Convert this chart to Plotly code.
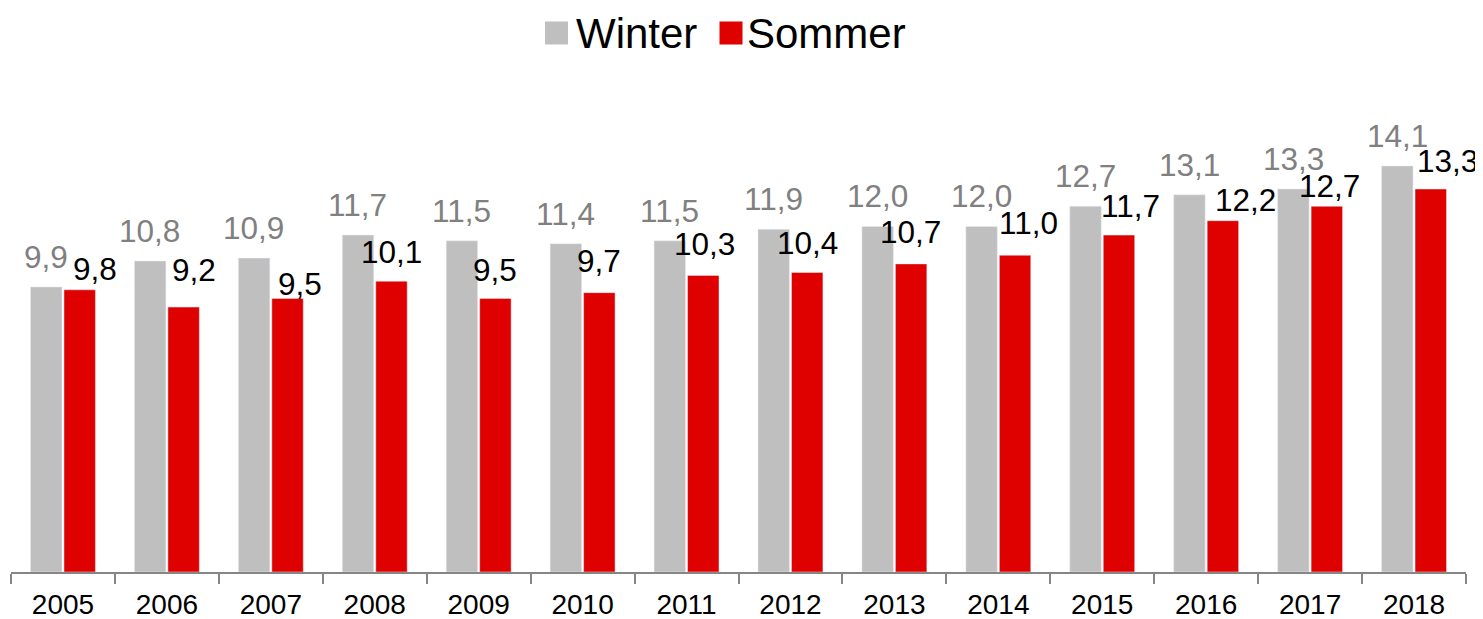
import plotly.graph_objects as go

years = ["2005", "2006", "2007", "2008", "2009", "2010", "2011",
         "2012", "2013", "2014", "2015", "2016", "2017", "2018"]
winter = [9.9, 10.8, 10.9, 11.7, 11.5, 11.4, 11.5, 11.9, 12.0, 12.0, 12.7, 13.1, 13.3, 14.1]
sommer = [9.8, 9.2, 9.5, 10.1, 9.5, 9.7, 10.3, 10.4, 10.7, 11.0, 11.7, 12.2, 12.7, 13.3]
series_names = ["Winter", "Sommer"]

# label placement offsets (pixels) for the Sommer labels, as in the original layout
sommer_dx = [14.5, 10, 12, -1, -1.5, -1.5, 0, 0, -1.5, 12.5, 11, 22, 2, 16]
sommer_dy = [21, 37.5, 14, 29, 28, 31.5, 31, 29.5, 31.5, 32, 29, 21, 20.5, 28]

GRAY = "#BFBFBF"
RED = "#DF0000"
FONT = "Liberation Sans, Arial, sans-serif"

W, H = 1475, 611
ML, MR, MT, MB = 3, 17, 52, 47
PW, PH = W - ML - MR, H - MT - MB


def fmt(v):
    return f"{v:.1f}".replace(".", ",")


def px_x(px):  # figure pixel -> paper fraction
    return (px - ML) / PW


def px_y(px):
    return 1 + (MT - px) / PH


fig = go.Figure()
fig.add_trace(go.Bar(x=years, y=winter, name=series_names[0], marker=dict(color=GRAY),
                     showlegend=False, hoverinfo="x+y"))
fig.add_trace(go.Bar(x=years, y=sommer, name=series_names[1], marker=dict(color=RED),
                     showlegend=False, hoverinfo="x+y"))

annotations = []
for i, (w, s) in enumerate(zip(winter, sommer)):
    annotations.append(dict(x=i, y=w, xref="x", yref="y", text=fmt(w), showarrow=False,
                            xshift=-17, yshift=30, yanchor="middle", xanchor="center",
                            font=dict(family=FONT, size=31.5, color="#808080")))
    annotations.append(dict(x=i, y=s, xref="x", yref="y", text=fmt(s), showarrow=False,
                            xshift=17.5 + sommer_dx[i], yshift=sommer_dy[i],
                            yanchor="middle", xanchor="center",
                            font=dict(family=FONT, size=31.5, color="#000000")))

# legend (top, centred) drawn as swatches + text
legend_y = px_y(25)
shapes = []
for name, color, sq_x, txt_x in [(series_names[0], GRAY, 548.5, 566),
                                 (series_names[1], RED, 723, 737)]:
    shapes.append(dict(type="rect", xref="paper", yref="paper",
                       xsizemode="pixel", ysizemode="pixel",
                       xanchor=px_x(sq_x), yanchor=legend_y,
                       x0=-11.5, x1=11.5, y0=-11.5, y1=11.5,
                       fillcolor=color, line=dict(width=0)))
    annotations.append(dict(x=px_x(txt_x), y=legend_y, xref="paper", yref="paper",
                            text=name, showarrow=False, xanchor="left", yanchor="middle",
                            font=dict(family=FONT, size=42, color="#000000")))

fig.update_layout(
    width=W, height=H,
    margin=dict(l=ML, r=MR, t=MT, b=MB),
    paper_bgcolor="white", plot_bgcolor="white",
    barmode="group", bargap=0.356, bargroupgap=0.06,
    font=dict(family=FONT, color="#000000"),
    showlegend=False,
    annotations=annotations,
    shapes=shapes,
    xaxis=dict(type="category", categoryorder="array", categoryarray=years,
               range=[-0.5, len(years) - 0.5], autorange=False, automargin=False,
               showline=True, linecolor="#868686", linewidth=1.5,
               ticks="outside", tickson="boundaries", ticklen=10, tickcolor="#868686",
               tickwidth=1.5, showgrid=False, tickangle=0, ticklabelstandoff=7,
               tickfont=dict(family=FONT, size=28, color="#000000")),
    yaxis=dict(range=[0, 17.78], visible=False, showgrid=False, zeroline=False,
               automargin=False),
)

fig.write_html("out.html")
